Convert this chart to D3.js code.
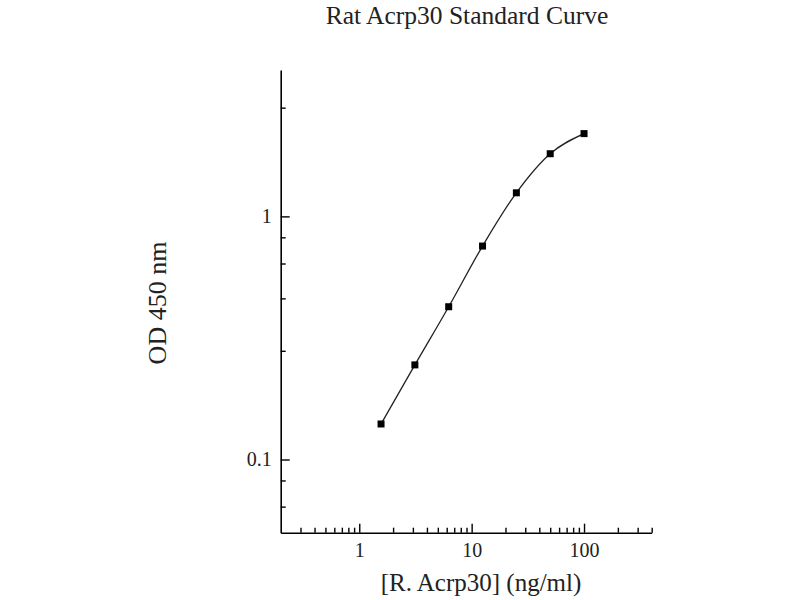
<!DOCTYPE html>
<html>
<head>
<meta charset="utf-8">
<script src="https://cdn.jsdelivr.net/npm/d3@7"></script>
<style>
  html, body { margin: 0; padding: 0; background: #fff; }
  svg { display: block; }
  text { font-family: "Liberation Serif", "Times New Roman", serif; fill: #222; }
</style>
</head>
<body>
<svg id="chart" width="800" height="600"></svg>
<script>
// ---- data ----
const concentrations = [1.5625, 3.125, 6.25, 12.5, 25, 50, 100];   // ng/ml
const odValues       = [0.140, 0.245, 0.425, 0.755, 1.25, 1.81, 2.19]; // OD 450 nm

const xMajorTicks = [1, 10, 100];
const xMinorTicks = [0.3, 0.4, 0.5, 0.6, 0.7, 0.8, 0.9,
                     2, 3, 4, 5, 6, 7, 8, 9,
                     20, 30, 40, 50, 60, 70, 80, 90,
                     200, 300, 400];
const yMajorTicks = [0.1, 1];
const yMinorTicks = [0.064, 0.082, 0.28, 0.46, 0.64, 0.82, 2.8];

const xDomain = [0.2, 400];
const yDomain = [0.05, 4];

const titleText = "Rat Acrp30 Standard Curve";
const xLabel = "[R. Acrp30] (ng/ml)";
const yLabel = "OD 450 nm";

// ---- layout ----
const plotLeft = 280.7, plotRight = 651.7, plotTop = 70, plotBottom = 532.7;

const svg = d3.select("#chart");

const x = d3.scaleLog().domain(xDomain).range([plotLeft, plotRight]);
const y = d3.scaleLog().domain(yDomain).range([plotBottom, plotTop]);

// x axis (ticks pointing inward/up)
const gx = svg.append("g").attr("transform", `translate(0,${plotBottom})`);
gx.call(d3.axisBottom(x).tickValues(xMajorTicks).tickFormat(d3.format("d"))
  .tickSizeInner(-9).tickSizeOuter(0).tickPadding(10));
const gxm = svg.append("g").attr("transform", `translate(0,${plotBottom})`);
gxm.call(d3.axisBottom(x).tickValues(xMinorTicks).tickFormat("")
  .tickSizeInner(-5).tickSizeOuter(0));
gxm.select(".domain").remove();

// y axis (ticks pointing inward/right)
const gy = svg.append("g").attr("transform", `translate(${plotLeft},0)`);
gy.call(d3.axisLeft(y).tickValues(yMajorTicks).tickFormat(d => String(d))
  .tickSizeInner(-9).tickSizeOuter(0).tickPadding(9));
const gym = svg.append("g").attr("transform", `translate(${plotLeft},0)`);
gym.call(d3.axisLeft(y).tickValues(yMinorTicks).tickFormat("")
  .tickSizeInner(-5).tickSizeOuter(0));
gym.select(".domain").remove();

svg.selectAll(".domain").attr("stroke", "#000").attr("stroke-width", 1.6);
svg.selectAll(".tick line").attr("stroke", "#000").attr("stroke-width", 1.4);
svg.selectAll(".tick text")
  .attr("font-family", "Liberation Serif, Times New Roman, serif")
  .attr("font-size", 20).attr("fill", "#222");

// fitted curve
const pts = concentrations.map((c, i) => [x(c), y(odValues[i])]);
svg.append("path")
  .attr("d", d3.line().curve(d3.curveMonotoneX)(pts))
  .attr("fill", "none").attr("stroke", "#222").attr("stroke-width", 1.3);

// square markers
const s = 7;
svg.append("g").selectAll("rect").data(concentrations).join("rect")
  .attr("x", (d) => x(d) - s / 2)
  .attr("y", (d, i) => y(odValues[i]) - s / 2)
  .attr("width", s).attr("height", s)
  .attr("fill", "#000");

// title & labels
svg.append("text").attr("x", 467).attr("y", 23.5).attr("text-anchor", "middle")
  .attr("font-size", 25.5).text(titleText);
svg.append("text").attr("x", 481).attr("y", 591).attr("text-anchor", "middle")
  .attr("font-size", 25).text(xLabel);
svg.append("text").attr("transform", `translate(166,303) rotate(-90)`)
  .attr("text-anchor", "middle").attr("font-size", 26).text(yLabel);
</script>
</body>
</html>
